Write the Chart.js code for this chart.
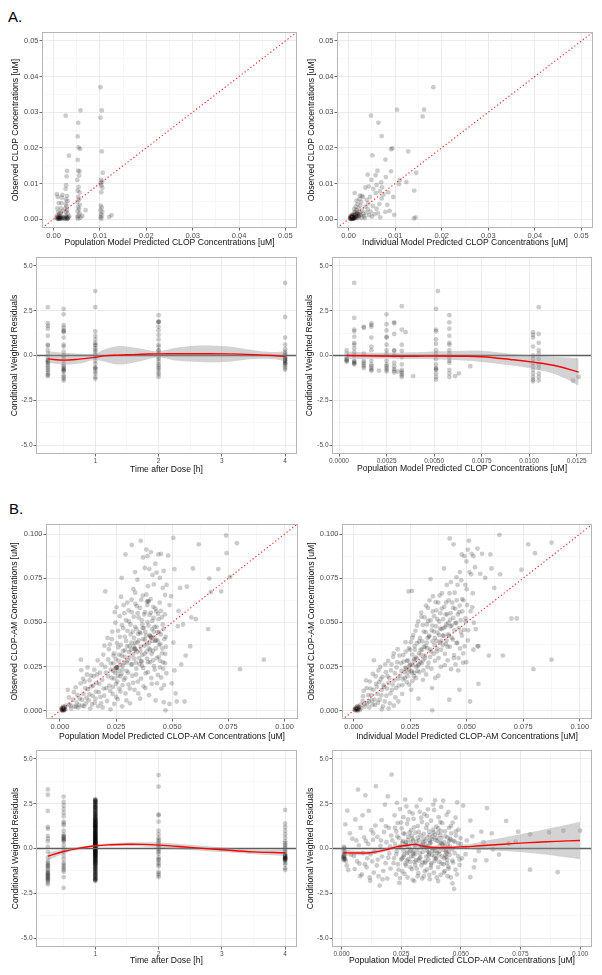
<!DOCTYPE html>
<html><head><meta charset="utf-8">
<script src="https://cdn.jsdelivr.net/npm/chart.js@4.4.1/dist/chart.umd.min.js"></script>
<style>
html,body{margin:0;padding:0;background:#fff;width:602px;height:975px;overflow:hidden;font-family:"Liberation Sans",Arial,sans-serif;}
canvas{position:absolute;}
.lab{position:absolute;font-size:15px;line-height:15px;color:#000;}
</style></head><body>
<div class="lab" style="left:8px;top:9px">A.</div>
<div class="lab" style="left:9px;top:501px">B.</div>
<script>
// ---------------- DATA ----------------
// Panel A1: CLOP population prediction vs observed [uM]
const clopPredObs = [
 [0.0007,0.007],[0.0009,0.0062],[0.0011,0.0045],[0.0008,0.003],[0.001,0.002],[0.0012,0.0015],[0.0007,0.001],[0.0009,0.0006],[0.0011,0.0003],[0.0008,0.0001],[0.0012,0.0008],[0.001,0.0],[0.0006,0.0004],[0.0013,0.0002],[0.0015,0.0005],[0.0016,0.001],[0.0017,0.0002],[0.0018,0.0004],[0.0019,0.0068],[0.0018,0.006],[0.0017,0.0045],[0.0016,0.003],[0.0019,0.0022],[0.0015,0.0016],
 [0.0009,0.0002],[0.0011,0.0005],[0.0014,0.0001],[0.0016,0.0003],[0.002,0.0001],[0.0022,0.0005],[0.0024,0.0002],[0.0027,0.0004],[0.003,0.0001],[0.0012,0.0001],
 [0.0026,0.029],[0.0029,0.0135],[0.0028,0.012],[0.0027,0.0095],[0.0026,0.0085],[0.0029,0.0065],[0.0027,0.0055],[0.003,0.005],[0.0026,0.0042],[0.0028,0.0036],[0.0025,0.003],[0.0029,0.0025],[0.0027,0.002],[0.003,0.0015],[0.0026,0.001],[0.0028,0.0006],[0.0031,0.0003],[0.0025,0.0001],[0.0029,0.0],[0.0033,0.0178],[0.0034,0.0008],[0.0032,0.0004],
 [0.0058,0.0305],[0.0053,0.027],[0.0052,0.0232],[0.0054,0.0201],[0.0057,0.0197],[0.0052,0.0166],[0.0053,0.0136],[0.0056,0.0134],[0.0055,0.0122],[0.0051,0.011],[0.0054,0.009],[0.0052,0.008],[0.0056,0.0075],[0.0053,0.0062],[0.0055,0.0055],[0.0051,0.0048],[0.0057,0.004],[0.0053,0.0034],[0.0055,0.0028],[0.0052,0.0022],[0.0056,0.0016],[0.0054,0.001],[0.0051,0.0006],[0.0058,0.0004],[0.0053,0.0001],[0.0069,0.0025],[0.0062,0.0009],
 [0.0101,0.037],[0.0104,0.0305],[0.0101,0.0285],[0.0104,0.019],[0.0106,0.013],[0.0102,0.011],[0.0105,0.0105],[0.0101,0.01],[0.0103,0.0095],[0.0105,0.0088],[0.0103,0.0075],[0.0102,0.0038],[0.0104,0.0032],[0.0101,0.0025],[0.0105,0.002],[0.0102,0.0014],[0.0104,0.0009],[0.0101,0.0005],[0.0103,0.0001],[0.012,0.0006],[0.0125,0.0011]
];
// Panel A2: CLOP individual prediction vs observed [uM]
const clopIpredObs = [
 [0.0003,0.0001],[0.0005,0.0003],[0.0006,0.0],[0.0008,0.0005],[0.0004,0.0008],[0.001,0.0002],[0.0012,0.0006],[0.0007,0.0012],[0.0009,0.0009],[0.0014,0.0011],[0.0011,0.0015],[0.0016,0.0004],[0.0018,0.0009],[0.0013,0.002],[0.002,0.0014],[0.0022,0.0006],[0.0017,0.0025],[0.0024,0.0019],[0.0026,0.0011],[0.0028,0.0003],[0.0021,0.003],[0.0015,0.0035],[0.0012,0.0028],[0.0029,0.0024],[0.0031,0.0015],[0.0033,0.0008],[0.0025,0.0038],[0.0035,0.0003],[0.0019,0.0042],[0.0038,0.0018],[0.0027,0.0048],[0.0041,0.0028],[0.0036,0.0035],[0.0044,0.0011],[0.0023,0.0056],[0.0031,0.0062],[0.0028,0.0065],[0.0024,0.0066],[0.0013,0.0073],[0.0017,0.0052],[0.0039,0.0054],[0.0042,0.0044],[0.0047,0.0021],[0.0052,0.0037],[0.005,0.0007],[0.0055,0.0014],[0.0063,0.0016],[0.0079,0.002],[0.006,0.0029],[0.0066,0.0042],[0.0058,0.0073],[0.0046,0.0062],[0.0071,0.0058],[0.0075,0.0069],[0.0083,0.004],
 [0.0004,0.0002],[0.0006,0.0004],[0.0007,0.0001],[0.0009,0.0003],[0.0011,0.0001],[0.0005,0.0006],[0.0008,0.0002],[0.001,0.0007],[0.0006,0.0009],[0.0013,0.0003],[0.0003,0.0004],
 [0.0005,0.0001],[0.0007,0.0003],[0.0009,0.0001],[0.0011,0.0004],[0.0008,0.0007],[0.0012,0.0002],[0.0014,0.0005],[0.0016,0.0008],[0.0019,0.0003],[0.0015,0.0014],[0.001,0.0011],[0.0017,0.0016],[0.0021,0.0009],[0.0023,0.0013],[0.0019,0.0019],
 [0.0041,0.0125],[0.0049,0.011],[0.0051,0.0179],[0.0048,0.029],[0.0058,0.0123],[0.0062,0.0136],[0.006,0.0096],[0.0064,0.027],[0.007,0.0103],[0.0071,0.0233],[0.0072,0.0089],[0.0079,0.0167],[0.008,0.0118],[0.0091,0.0196],[0.0094,0.0199],[0.0091,0.0134],[0.0104,0.0307],[0.011,0.011],[0.0124,0.0104],[0.0128,0.019],[0.0145,0.013],[0.0141,0.008],[0.014,0.0002],[0.0144,0.0005],[0.0159,0.0288],[0.0162,0.0307],[0.0182,0.037],[0.0085,0.0075],[0.0096,0.0062],[0.0108,0.0098],[0.0053,0.0085],[0.0067,0.0078],[0.0043,0.0092],[0.0036,0.0088],[0.0088,0.0023],[0.0098,0.0012],[0.0068,0.0005]
];
// Panel A3: CLOP CWRES by time after dose [h]
const clopTimes = [0.25, 0.5, 1, 2, 4];
const clopTimeCwres = [
 [2.7,1.8,1.65,1.5,1.1,0.6,0.55,0.3,0.1,-0.1,-0.3,-0.4,-0.5,-0.6,-0.7,-0.8,-0.9,-1.0,-1.1,-1.15,-0.25,-0.35],
 [2.6,2.3,1.7,1.55,1.4,1.35,1.3,1.0,0.6,0.5,0.2,0.0,-0.1,-0.3,-0.5,-0.6,-0.75,-0.8,-0.9,-1.1,-1.2,-1.3,-1.4,-0.7,-0.85],
 [3.6,2.7,1.35,1.1,0.9,0.7,0.6,0.55,0.4,0.3,0.2,0.05,-0.1,-0.3,-0.45,-0.7,-0.75,-0.9,-1.0,-1.2,-1.3,-0.65],
 [2.25,1.9,1.85,1.6,1.4,1.15,0.9,0.6,0.5,0.3,0.25,0.1,-0.1,-0.2,-0.35,-0.5,-0.6,-0.7,-0.8,-0.95,-1.05,-1.2,1.88],
 [4.05,2.15,1.0,0.6,0.35,0.2,0.1,0.0,-0.1,-0.2,-0.3,-0.35,-0.4,-0.5,-0.6,-0.7,-0.8,-0.25,-0.45,-0.15]
];
const clopTimeSmoothX  = [0.25,0.5,0.75,1,1.15,1.35,1.6,1.85,2,2.3,2.7,3.1,3.5,3.8,4];
const clopTimeSmoothY  = [-0.19,-0.26,-0.2,-0.1,-0.02,0.02,0.05,0.08,0.09,0.1,0.1,0.09,0.05,0.0,-0.06];
const clopTimeSmoothHi = [0.24,0.15,0.1,0.12,0.35,0.52,0.45,0.3,0.24,0.45,0.56,0.5,0.3,0.2,0.24];
const clopTimeSmoothLo = [-0.41,-0.5,-0.45,-0.25,-0.35,-0.5,-0.4,-0.2,-0.1,-0.3,-0.37,-0.35,-0.2,-0.2,-0.32];
// Panel A4: CLOP CWRES vs population prediction
const clopPredCwres = [
 [0.0004,0.3],[0.0004,0.1],[0.0004,-0.1],[0.0004,-0.2],[0.0004,-0.25],[0.0004,-0.3],[0.0004,-0.35],
 [0.0008,4.05],[0.0008,2.1],[0.0008,1.45],[0.0008,1.35],[0.0008,1.05],[0.0008,0.7],[0.0008,0.6],[0.0008,0.4],[0.0008,0.2],[0.0008,0.0],[0.0008,-0.3],[0.0008,-0.35],[0.0008,-0.4],[0.0008,-0.45],[0.0008,-0.5],
 [0.0013,1.6],[0.0013,1.55],[0.0013,0.1],[0.0013,-0.3],[0.0013,-0.4],[0.0013,-0.5],[0.0013,-0.6],[0.0013,-0.7],
 [0.0017,1.8],[0.0017,1.7],[0.0017,1.6],[0.0017,1.0],[0.0017,0.5],[0.0017,0.3],[0.0017,-0.3],[0.0017,-0.5],[0.0017,-0.6],[0.0017,-0.7],[0.0017,-0.8],[0.0017,-0.85],[0.0021,-0.85],
 [0.0025,2.3],[0.0025,1.75],[0.0025,1.4],[0.0025,1.05],[0.0025,1.0],[0.0025,0.6],[0.0025,0.3],[0.0025,0.1],[0.0025,-0.3],[0.0025,-0.5],[0.0025,-0.6],[0.0025,-0.7],[0.0025,-0.8],[0.0025,-0.9],
 [0.0029,1.85],[0.0029,1.8],[0.0029,1.2],[0.0029,0.3],[0.0029,0.25],[0.0029,0.0],[0.0029,-0.4],[0.0029,-0.6],[0.0029,-0.75],[0.0029,-0.85],[0.0029,-0.95],[0.0031,-0.9],
 [0.0033,2.75],[0.0033,1.45],[0.0033,0.6],[0.0033,0.25],[0.0033,-0.1],[0.0033,-0.5],[0.0033,-0.8],[0.0033,-0.9],[0.0033,-1.0],[0.0033,-1.1],[0.0033,-1.2],[0.0035,1.3],[0.0039,-1.15],
 [0.0051,2.6],[0.0051,1.45],[0.0051,1.35],[0.0051,0.9],[0.0051,0.65],[0.0051,0.3],[0.0051,0.1],[0.0051,-0.2],[0.0051,-0.5],[0.0051,-0.7],[0.0051,-0.75],[0.0051,-0.8],[0.0051,-1.0],[0.0051,-1.2],[0.0051,-1.35],[0.0052,3.6],
 [0.0058,2.25],[0.0058,1.85],[0.0058,1.5],[0.0058,1.1],[0.0058,0.7],[0.0058,0.6],[0.0058,0.3],[0.0058,0.1],[0.0058,-0.1],[0.0058,-0.3],[0.0058,-0.4],[0.0058,-0.8],[0.0058,-1.0],[0.0058,-1.2],
 [0.0061,-1.15],[0.0063,-1.0],[0.0069,-0.6],
 [0.0102,1.3],[0.0102,1.15],[0.0102,1.0],[0.0102,0.5],[0.0102,0.0],[0.0102,-0.2],[0.0102,-0.4],[0.0102,-0.6],[0.0102,-0.8],[0.0102,-1.0],[0.0102,-1.2],[0.0102,-1.35],[0.0102,-1.45],
 [0.0105,2.7],[0.0105,1.2],[0.0105,0.7],[0.0105,0.3],[0.0105,0.1],[0.0105,-0.2],[0.0105,-0.5],[0.0105,-0.7],[0.0105,-1.0],[0.0105,-1.2],[0.0105,-1.4],
 [0.0123,-1.4],[0.0126,-1.2]
];
const clopPredSmoothX  = [0.0004,0.002,0.004,0.005,0.0065,0.0075,0.009,0.0102,0.0115,0.0126];
const clopPredSmoothY  = [0.0,-0.03,-0.04,-0.03,-0.04,-0.07,-0.22,-0.37,-0.6,-0.93];
const clopPredSmoothHi = [0.22,0.15,0.18,0.22,0.26,0.26,0.1,0.0,-0.08,-0.15];
const clopPredSmoothLo = [-0.2,-0.18,-0.2,-0.22,-0.28,-0.36,-0.55,-0.75,-1.1,-1.68];

// Panel B1: CLOP-AM population prediction vs observed [uM]
const amPredObs = [
 [0.0008,0.0004],[0.001,0.0008],[0.0012,0.0002],[0.0014,0.0011],[0.0009,0.0015],[0.0016,0.0006],[0.0011,0.0],[0.0018,0.0014],[0.0013,0.0019],[0.002,0.0003],[0.0007,0.0011],[0.0015,0.0024],[0.0022,0.0017],[0.0024,0.0008],[0.0017,0.0003],[0.0026,0.0028],[0.0019,0.0009],[0.001,0.0005],
 [0.0035,0.0118],[0.0042,0.0035],[0.005,0.0012],[0.0058,0.0062],[0.0065,0.0025],[0.007,0.0132],[0.0075,0.0045],[0.0082,0.0018],[0.0088,0.0068],[0.0093,0.0289],[0.0095,0.023],[0.01,0.0028],[0.0105,0.0095],[0.011,0.0165],[0.0115,0.0041],[0.012,0.0205],[0.0125,0.0122],[0.0128,0.0058],[0.0132,0.0172],[0.0135,0.0012],[0.014,0.0138],[0.0145,0.0085],[0.015,0.0195],[0.0155,0.0045],[0.016,0.0108],[0.0165,0.0205],[0.017,0.0025],[0.0175,0.0152],[0.018,0.0078],[0.0185,0.0262],[0.019,0.0018],[0.0195,0.0125],[0.0198,0.0368],[0.0202,0.0675],[0.0205,0.0215],
 [0.004,0.0075],[0.0048,0.0028],[0.0062,0.0105],[0.0072,0.0022],[0.0078,0.0088],[0.0085,0.0032],[0.0092,0.0155],[0.0098,0.0062],[0.0103,0.0182],[0.0108,0.0025],[0.0113,0.0128],[0.0118,0.0072],[0.0123,0.0245],[0.0131,0.0092],[0.0138,0.0198],[0.0143,0.0035],[0.0148,0.0142],[0.0153,0.0232],[0.0158,0.0068],[0.0163,0.0158],[0.0168,0.0285],[0.0173,0.0105],[0.0178,0.0215],[0.0183,0.0042],[0.0188,0.0175],[0.0193,0.0318],[0.0197,0.0085],[0.0201,0.0248],[0.0207,0.0128],[0.0212,0.0412],
 [0.021,0.0055],[0.0215,0.029],[0.022,0.0142],[0.0222,0.0375],[0.0225,0.0008],[0.0228,0.0232],[0.023,0.0185],[0.0233,0.0448],[0.0235,0.0095],[0.0238,0.0268],[0.024,0.0325],[0.0242,0.0038],[0.0245,0.0215],[0.0247,0.0498],[0.025,0.0152],[0.0252,0.0585],[0.0255,0.0245],[0.0257,0.0065],[0.026,0.0358],[0.0262,0.0282],[0.0265,0.0125],[0.0267,0.0418],[0.027,0.0195],[0.0272,0.0645],[0.0275,0.0312],[0.0277,0.0025],[0.028,0.0255],[0.0282,0.0468],[0.0285,0.0175],[0.0287,0.0552],[0.029,0.0342],[0.0292,0.0098],[0.0295,0.0395],[0.0297,0.0225],[0.03,0.0612],[0.0302,0.0285],[0.0305,0.0148],[0.0307,0.0505],[0.031,0.0365],[0.0312,0.0042],[0.0315,0.0432],[0.0317,0.0262],[0.032,0.0558],[0.0322,0.0198],[0.0325,0.0318],[0.0327,0.0688],[0.033,0.0412],[0.0332,0.0118],[0.0335,0.0475],[0.0337,0.0345],[0.034,0.0238],[0.0342,0.0592],[0.0345,0.0385],[0.0347,0.0165],[0.035,0.0528],[0.0352,0.0298],[0.0355,0.0445],[0.0357,0.0068],[0.036,0.0362],[0.0362,0.0628],[0.0365,0.0255],[0.0367,0.0488],[0.037,0.0405],[0.0372,0.0138],[0.0375,0.0545],[0.0377,0.0322],[0.038,0.0445],[0.0382,0.0212],[0.0385,0.0658],[0.0387,0.0378],[0.039,0.0502],[0.0392,0.0275],[0.0395,0.0618],[0.0397,0.0088],[0.04,0.0428],[0.0402,0.0345],[0.0405,0.0555],[0.0407,0.0185],[0.041,0.0462],[0.0412,0.0395],[0.0415,0.0285],[0.0417,0.0525],[0.042,0.0418],[0.0422,0.0232],[0.0425,0.0578],[0.0427,0.0352],[0.043,0.0475],[0.0432,0.0155],[0.0435,0.0398],[0.0437,0.0548],[0.044,0.0305],[0.0442,0.0445],[0.0445,0.0245],[0.0447,0.0378],[0.045,0.0565],[0.0452,0.0125],[0.0455,0.0325],[0.0458,0.0488],[0.046,0.0238],[0.0462,0.0048],[0.0465,0.0405],[0.0468,0.0268],[0.047,0.0002],[0.0472,0.0362],
 [0.0215,0.0195],[0.0218,0.0348],[0.0224,0.0112],[0.0227,0.0268],[0.0231,0.0405],[0.0236,0.0135],[0.0239,0.0312],[0.0241,0.0182],[0.0244,0.0558],[0.0249,0.0292],[0.0251,0.0078],[0.0254,0.0382],[0.0256,0.0165],[0.0259,0.0452],[0.0261,0.0225],[0.0264,0.0318],[0.0266,0.0535],[0.0269,0.0108],[0.0271,0.0372],[0.0274,0.0208],[0.0276,0.0485],[0.0279,0.0145],[0.0281,0.0338],[0.0284,0.0598],[0.0286,0.0272],[0.0289,0.0418],[0.0291,0.0185],[0.0294,0.0512],[0.0296,0.0058],[0.0299,0.0365],[0.0301,0.0452],[0.0304,0.0215],[0.0306,0.0568],[0.0309,0.0302],[0.0311,0.0125],[0.0314,0.0488],[0.0316,0.0345],[0.0319,0.0628],[0.0321,0.0262],[0.0324,0.0448],[0.0326,0.0158],[0.0329,0.0532],[0.0331,0.0295],[0.0334,0.0385],[0.0336,0.0605],[0.0339,0.0205],[0.0341,0.0462],[0.0344,0.0332],[0.0346,0.0552],[0.0349,0.0098],[0.0351,0.0398],[0.0354,0.0265],[0.0356,0.0582],[0.0359,0.0438],[0.0361,0.0182],[0.0364,0.0512],[0.0366,0.0315],[0.0369,0.0652],[0.0371,0.0242],[0.0374,0.0468],[0.0376,0.0368],[0.0379,0.0558],[0.0381,0.0128],[0.0384,0.0425],[0.0386,0.0335],[0.0389,0.0598],[0.0391,0.0218],[0.0394,0.0482],[0.0396,0.0352],[0.0399,0.0542],[0.0401,0.0275],[0.0404,0.0632],[0.0406,0.0412],[0.0409,0.0152],[0.0411,0.0508],[0.0414,0.0338],[0.0416,0.0588],[0.0419,0.0252],[0.0421,0.0475],[0.0424,0.0395],[0.0426,0.0058],[0.0429,0.0562],[0.0431,0.0298],[0.0434,0.0445],[0.0436,0.0202],[0.0439,0.0518],[0.0441,0.0372],[0.0444,0.0612],[0.0446,0.0282],[0.0449,0.0432],[0.0451,0.0188],[0.0454,0.0528],[0.0456,0.0352],[0.0459,0.0275],[0.0461,0.0462],[0.0464,0.0145],[0.0467,0.0545],[0.0469,0.0322],[0.0471,0.0418],[0.0474,0.0212],
 [0.0318,0.0385],[0.0338,0.0272],[0.0358,0.0338],[0.0378,0.0402],[0.0398,0.0385],[0.0418,0.0448],[0.0388,0.0295],[0.0348,0.0435],[0.0328,0.0365],[0.0408,0.0322],[0.0368,0.0468],[0.0428,0.0398],[0.0308,0.0332],[0.0298,0.0272],[0.0288,0.0305],[0.0278,0.0232],[0.0268,0.0258],[0.0258,0.0198],[0.0248,0.0242],[0.0238,0.0225],
 [0.0252,0.0245],[0.0254,0.0242],[0.0402,0.0422],[0.0404,0.0418],[0.0388,0.0618],[0.0392,0.062],[0.0332,0.0348],[0.0334,0.0352],[0.0362,0.0282],[0.0364,0.0278],
 [0.0275,0.0752],[0.0292,0.0885],[0.032,0.0938],[0.0335,0.0785],[0.0345,0.0742],[0.036,0.0962],[0.037,0.0868],[0.0378,0.0808],[0.0385,0.0912],[0.039,0.0875],[0.0398,0.0802],[0.0405,0.0898],[0.0412,0.0768],[0.0418,0.0715],[0.0425,0.0832],[0.043,0.0782],[0.0438,0.0885],[0.0445,0.0752],[0.045,0.0888],[0.0458,0.0695],[0.0462,0.0792],[0.0468,0.0655],[0.0475,0.0712],[0.0482,0.0878],[0.0488,0.0598],[0.0495,0.0648],[0.0505,0.0978],[0.051,0.0802],[0.0335,0.0668],[0.0392,0.0705],
 [0.0505,0.0385],[0.051,0.0228],[0.0515,0.0098],[0.052,0.0052],[0.0525,0.0478],[0.0535,0.0695],[0.054,0.0262],[0.0548,0.0488],[0.0555,0.0052],[0.056,0.0312],[0.0565,0.0702],[0.058,0.0365],[0.0585,0.0528],[0.0592,0.0805],[0.0605,0.0518],[0.0618,0.0942],[0.066,0.0462],[0.0665,0.0748],[0.0672,0.0672],[0.0705,0.0802],[0.0718,0.0675],[0.074,0.0992],[0.0742,0.0892],[0.0758,0.0758],[0.0788,0.0948],[0.0802,0.0235],[0.0908,0.0289],[0.0488,0.0038],[0.0498,0.0155],[0.0528,0.0565]
];
// Panel B2: CLOP-AM individual prediction vs observed [uM]
const amIpredObs = [
 [0.0006,0.0003],[0.0009,0.0007],[0.0012,0.0001],[0.0015,0.0012],[0.0008,0.0015],[0.0018,0.0005],[0.0011,0.001],[0.002,0.0018],[0.0014,0.0022],[0.0023,0.0009],[0.0005,0.0009],[0.0017,0.0026],[0.0025,0.0021],[0.0028,0.0004],[0.0019,0.0],[0.003,0.0033],[0.0021,0.0012],[0.0013,0.0005],
 [0.0035,0.0015],[0.004,0.0055],[0.0045,0.0112],[0.005,0.0025],[0.0055,0.0172],[0.006,0.0042],[0.0065,0.0088],[0.007,0.0018],[0.0075,0.0125],[0.008,0.0058],[0.0085,0.0208],[0.009,0.0285],[0.0095,0.0032],[0.01,0.0152],[0.0105,0.0095],[0.011,0.0228],[0.0115,0.0062],[0.012,0.0178],[0.0125,0.0118],[0.013,0.0025],[0.0135,0.0135],[0.014,0.0262],[0.0145,0.0085],[0.015,0.0195],[0.0155,0.0158],[0.016,0.0042],[0.0165,0.0228],[0.017,0.0118],[0.0175,0.0305],[0.018,0.0172],[0.0185,0.0075],[0.019,0.0245],[0.0195,0.0348],[0.02,0.0142],[0.0205,0.0198],[0.0085,0.0035],[0.0125,0.0008],[0.0155,0.0012],[0.0178,0.0028],[0.0198,0.0052],
 [0.0042,0.0082],[0.0048,0.0038],[0.0058,0.0128],[0.0068,0.0052],[0.0072,0.0165],[0.0078,0.0088],[0.0088,0.0118],[0.0093,0.0062],[0.0098,0.0195],[0.0103,0.0135],[0.0108,0.0045],[0.0113,0.0162],[0.0118,0.0248],[0.0123,0.0088],[0.0128,0.0192],[0.0133,0.0145],[0.0138,0.0052],[0.0143,0.0218],[0.0148,0.0125],[0.0153,0.0282],[0.0158,0.0185],[0.0163,0.0098],[0.0168,0.0262],[0.0173,0.0148],[0.0178,0.0325],[0.0183,0.0212],[0.0188,0.0128],[0.0193,0.0275],[0.0197,0.0182],[0.0203,0.0312],
 [0.021,0.0268],[0.0215,0.0095],[0.022,0.0315],[0.0225,0.0218],[0.023,0.0388],[0.0235,0.0162],[0.024,0.0285],[0.0243,0.0675],[0.0245,0.0235],[0.025,0.0345],[0.0255,0.0118],[0.026,0.0412],[0.0263,0.0258],[0.0267,0.0195],[0.027,0.0365],[0.0275,0.0302],[0.028,0.0482],[0.0283,0.0225],[0.0287,0.0068],[0.029,0.0392],[0.0295,0.0275],[0.03,0.0532],[0.0303,0.0345],[0.0307,0.0175],[0.031,0.0448],[0.0315,0.0312],[0.032,0.0595],[0.0323,0.0385],[0.0327,0.0248],[0.033,0.0508],[0.0335,0.0425],[0.034,0.0745],[0.0343,0.0335],[0.0347,0.0128],[0.035,0.0562],[0.0355,0.0448],[0.036,0.0282],[0.0363,0.0615],[0.0367,0.0395],[0.037,0.0518],[0.0375,0.0198],[0.038,0.0652],[0.0383,0.0465],[0.0387,0.0345],[0.039,0.0578],[0.0395,0.0425],[0.04,0.0805],[0.0403,0.0258],[0.0407,0.0545],[0.041,0.0488],[0.0415,0.0362],[0.042,0.0625],[0.0423,0.0062],[0.0427,0.0515],[0.043,0.0728],[0.0435,0.0412],[0.044,0.0582],[0.0443,0.0298],[0.0447,0.0668],[0.045,0.0495],[0.0455,0.0382],[0.046,0.0712],[0.0463,0.0228],[0.0467,0.0558],[0.047,0.0785],[0.0475,0.0445],[0.048,0.0632],[0.0485,0.0325],[0.049,0.0875],[0.0495,0.0522],[0.05,0.0688],[0.0505,0.0398],[0.051,0.0962],[0.052,0.0772],[0.0525,0.0585],[0.053,0.0875],[0.054,0.0462],[0.0548,0.0918],[0.0552,0.0365],[0.056,0.0775],[0.0568,0.0888],
 [0.0212,0.0225],[0.0216,0.0145],[0.0221,0.0278],[0.0226,0.0185],[0.0231,0.0335],[0.0233,0.0242],[0.0236,0.0282],[0.0241,0.0218],[0.0244,0.0352],[0.0246,0.0148],[0.0251,0.0262],[0.0253,0.0388],[0.0256,0.0225],[0.0259,0.0318],[0.0261,0.0168],[0.0264,0.0428],[0.0266,0.0282],[0.0269,0.0215],[0.0271,0.0345],[0.0274,0.0452],[0.0276,0.0185],[0.0279,0.0295],[0.0281,0.0382],[0.0284,0.0255],[0.0286,0.0505],[0.0289,0.0325],[0.0291,0.0218],[0.0294,0.0412],[0.0296,0.0345],[0.0299,0.0555],[0.0301,0.0268],[0.0304,0.0392],[0.0306,0.0485],[0.0309,0.0228],[0.0311,0.0362],[0.0314,0.0528],[0.0316,0.0298],[0.0319,0.0445],[0.0321,0.0205],[0.0324,0.0488],[0.0326,0.0355],[0.0329,0.0582],[0.0331,0.0272],[0.0334,0.0418],[0.0336,0.0625],[0.0339,0.0345],[0.0341,0.0512],[0.0344,0.0238],[0.0346,0.0455],[0.0349,0.0392],[0.0351,0.0648],[0.0354,0.0322],[0.0356,0.0535],[0.0359,0.0412],[0.0361,0.0185],[0.0364,0.0478],[0.0366,0.0568],[0.0369,0.0352],[0.0371,0.0442],[0.0374,0.0612],[0.0376,0.0298],[0.0379,0.0505],[0.0381,0.0385],[0.0384,0.0552],[0.0386,0.0248],[0.0389,0.0462],[0.0391,0.0665],[0.0394,0.0372],[0.0396,0.0518],[0.0399,0.0425],[0.0401,0.0588],[0.0404,0.0322],[0.0406,0.0475],[0.0409,0.0612],[0.0411,0.0398],[0.0414,0.0545],[0.0416,0.0285],[0.0419,0.0498],[0.0421,0.0425],[0.0424,0.0665],[0.0426,0.0362],[0.0429,0.0552],[0.0431,0.0235],[0.0434,0.0482],[0.0436,0.0612],[0.0439,0.0402],[0.0441,0.0525],[0.0444,0.0315],[0.0446,0.0455],[0.0449,0.0578],[0.0451,0.0262],[0.0454,0.0498],[0.0456,0.0625],[0.0459,0.0385],[0.0461,0.0545],[0.0464,0.0298],[0.0466,0.0468],[0.0469,0.0595],[0.0471,0.0352],[0.0474,0.0512],[0.0476,0.0738],[0.0479,0.0425],[0.0481,0.0562],[0.0484,0.0272],[0.0486,0.0625],[0.0489,0.0458],[0.0491,0.0365],[0.0494,0.0712],[0.0496,0.0505],[0.0499,0.0845],[0.0502,0.0598],[0.0507,0.0455],[0.0512,0.0785],[0.0517,0.0562],[0.0522,0.0888],[0.0527,0.0665],[0.0532,0.0498],[0.0537,0.0812],
 [0.0318,0.0362],[0.0338,0.0305],[0.0358,0.0372],[0.0378,0.0428],[0.0398,0.0468],[0.0418,0.0432],[0.0388,0.0395],[0.0348,0.0482],[0.0328,0.0412],[0.0408,0.0378],[0.0368,0.0335],[0.0428,0.0478],[0.0308,0.0285],[0.0298,0.0318],[0.0288,0.0262],[0.0278,0.0248],[0.0268,0.0292],[0.0258,0.0215],[0.0248,0.0258],[0.0238,0.0195],[0.0228,0.0242],[0.0218,0.0178],
 [0.0258,0.0678],[0.0412,0.0712],[0.0425,0.0975],[0.0442,0.0942],[0.0455,0.0755],[0.0478,0.0885],[0.0505,0.0912],[0.053,0.0345],[0.0548,0.0365],[0.0582,0.0752],[0.0598,0.0312],[0.0605,0.0885],[0.061,0.0805],[0.0622,0.0695],[0.0645,0.0995],[0.0648,0.0772],[0.066,0.0312],[0.0698,0.0522],[0.0722,0.0522],[0.0742,0.0798],[0.0772,0.0942],[0.0795,0.0235],[0.0802,0.0892],[0.0875,0.0952],[0.0875,0.0289],[0.0515,0.0052],[0.0348,0.0002],[0.0552,0.0152],[0.0468,0.0118],[0.0498,0.0275]
];
// Panel B3: CLOP-AM CWRES by time after dose [h]
const amTimes = [0.25, 0.5, 1, 2, 4];
const amTimeCwres = [
 [3.3,3.0,2.1,1.2,1.1,0.7,0.55,0.4,0.1,-0.2,-0.5,-0.7,-0.8,-0.9,-1.0,-1.1,-1.2,-1.3,-1.4,-1.5,-1.55,-1.6,-1.7,-1.8,-1.9,-2.0,-1.45,-1.65,-1.35,-1.75,-0.95],
 [2.9,2.6,2.4,2.2,2.0,1.8,1.5,1.4,1.3,1.0,0.8,0.6,0.5,0.4,0.2,0.0,-0.2,-0.4,-0.6,-0.8,-1.0,-1.1,-1.3,-1.6,-2.2,0.55,0.65,-0.9,0.45,0.7,-1.2],
 [2.75,2.72,2.66,2.6,2.55,2.48,2.41,2.35,2.28,2.2,2.14,2.06,1.98,1.92,1.85,1.78,1.72,1.66,1.6,1.53,1.47,1.41,1.35,1.3,1.24,1.18,1.12,1.06,1.0,0.95,0.9,0.84,0.78,0.73,0.68,0.62,0.57,0.52,0.47,0.42,0.37,0.32,0.27,0.22,0.17,0.12,0.07,0.02,-0.03,-0.08,-0.13,-0.18,-0.23,-0.28,-0.33,-0.38,-0.44,-0.5,-0.56,-0.62,-0.68,-0.74,-0.8,-0.87,-0.94,-1.01,-1.08,-1.16,-1.24,-1.32,-1.4,-1.48,-1.56,-1.64,-1.72,-1.8,
  0.05,0.15,0.25,0.35,0.45,0.55,0.65,0.75,0.85,1.1,1.25,1.4,1.55,-0.1,-0.3,-0.5,-0.7,-0.9,0.3,0.6,0.9,1.2,0.0,-0.2,-0.4,1.7,1.9,2.1,2.3,2.5,-1.1,-1.3,-1.5,
  2.7,2.62,2.45,2.32,2.18,2.02,1.88,1.75,1.62,1.5,1.38,1.27,1.15,1.03,0.92,0.81,0.7,0.59,0.49,0.39,0.29,0.19,0.09,-0.01,-0.11,-0.21,-0.31,-0.41,-0.53,-0.65,-0.77,-0.9,-1.04,-1.2,-1.36,-1.52,-1.68,-1.76,
  2.68,2.58,2.38,2.25,2.1,1.95,1.82,1.69,1.57,1.44,1.33,1.21,1.09,0.98,0.87,0.76,0.65,0.54,0.44,0.34,0.24,0.14,0.04,-0.06,-0.16,-0.26,-0.36,-0.47,-0.59,-0.71,-0.84,-0.97,-1.12,-1.28,-1.44,-1.6,-1.7,-1.78,
  1.58,1.46,1.34,1.22,1.08,0.96,0.83,0.71,0.58,0.46,0.33,0.21,0.08,-0.04,-0.17,-0.29,-0.42,-0.55,-0.69,-0.83],
 [4.1,3.45,1.9,1.85,1.5,1.0,0.8,0.6,0.5,0.4,0.3,0.2,0.1,0.0,-0.1,-0.2,-0.3,-0.5,-0.6,-0.65,-0.8,-0.9,-1.0,-1.3,-1.4,-1.5,-1.6],
 [2.15,1.4,1.2,1.0,0.8,0.6,0.4,0.3,0.2,0.1,0.0,-0.1,-0.2,-0.3,-0.4,-0.5,-0.55,-0.6,-0.65,-0.7,-0.8,-0.9,-1.1,-1.2,-0.45,-0.35,-0.5,-0.6,-0.42,-0.52,-0.58]
];
const amTimeSmoothX  = [0.25,0.5,0.75,1,1.25,1.5,1.75,2,2.5,3,3.5,4];
const amTimeSmoothY  = [-0.43,-0.17,0.02,0.15,0.21,0.24,0.23,0.19,0.06,-0.07,-0.19,-0.24];
const amTimeSmoothHi = [-0.2,-0.05,0.1,0.2,0.29,0.34,0.35,0.34,0.21,0.06,-0.06,-0.06];
const amTimeSmoothLo = [-0.66,-0.29,-0.06,0.1,0.13,0.14,0.11,0.04,-0.09,-0.2,-0.32,-0.42];
// Panel B4: CLOP-AM CWRES vs population prediction
const amPredCwres = [
 [0.0008,-0.55],[0.0009,-0.42],[0.001,-0.3],[0.0011,-0.6],[0.0012,-0.18],[0.0008,-0.05],[0.001,0.1],[0.0013,-0.5],[0.0009,-0.65],[0.0011,-0.38],[0.0014,-0.25],[0.0007,-0.48],[0.0012,0.02],[0.0015,-0.58],[0.0018,-0.7],[0.0016,1.35],[0.0024,2.12],[0.0022,-0.95],[0.0028,-1.2],[0.0035,0.85],[0.004,-0.35],
 [0.0055,-1.15],[0.0062,0.45],[0.0069,3.29],[0.0075,-0.85],[0.008,1.15],[0.0085,-1.45],[0.009,-0.25],[0.0095,0.62],[0.01,2.97],[0.0105,-1.05],[0.0108,-0.55],[0.0112,0.25],[0.0114,2.1],[0.0118,-1.62],[0.012,-1.8],[0.0125,1.02],[0.0128,-0.72],[0.0132,0.48],[0.0135,-1.35],[0.0138,-0.18],[0.0142,1.28],[0.0144,3.48],[0.0148,-0.95],[0.015,0.65],[0.0155,-1.55],[0.016,-2.07],[0.0163,0.15],[0.0168,1.58],[0.017,-0.45],[0.0175,-1.25],[0.0178,0.92],[0.0182,2.45],[0.0185,-0.82],[0.0188,0.35],[0.0192,-1.68],[0.0194,2.91],[0.0198,1.15],[0.02,-0.28],[0.0205,-1.12],[0.021,4.13],[0.0208,0.72],
 [0.0045,0.55],[0.0052,-0.42],[0.0058,1.62],[0.0065,-0.72],[0.0072,0.18],[0.0078,-1.55],[0.0088,1.85],[0.0098,-0.88],[0.0102,0.42],[0.0122,-0.32],[0.0133,0.85],[0.0152,-0.62],[0.0165,0.45],[0.0172,-1.72],[0.0186,1.25],[0.0196,-0.52],[0.0203,0.12],
 [0.022,-0.55],[0.0222,1.85],[0.0225,0.25],[0.0228,-1.45],[0.023,0.95],[0.0232,-0.15],[0.0235,1.42],[0.0237,-0.88],[0.024,0.58],[0.0242,-1.92],[0.0245,2.2],[0.0247,0.05],[0.025,-0.62],[0.0252,1.12],[0.0255,-1.28],[0.0257,0.42],[0.026,1.75],[0.0262,-0.35],[0.0265,0.82],[0.0267,2.73],[0.027,-0.95],[0.0272,0.18],[0.0275,1.38],[0.0277,-1.62],[0.028,0.65],[0.0282,-0.22],[0.0285,2.05],[0.0287,-0.75],[0.029,0.32],[0.0292,1.02],[0.0295,-1.15],[0.0297,0.55],[0.03,-0.42],[0.0302,1.65],[0.0305,-1.82],[0.0307,0.12],[0.031,0.88],[0.0312,-0.65],[0.0315,2.35],[0.0317,-0.08],[0.032,1.25],[0.0322,-1.38],[0.0325,0.45],[0.0327,-0.55],[0.033,2.73],[0.0332,0.72],[0.0335,-0.95],[0.0337,1.48],[0.034,-0.2],[0.0342,0.35],[0.0345,-1.55],[0.0347,1.92],[0.035,0.08],[0.0352,-0.72],[0.0355,1.15],[0.0357,-1.18],[0.036,0.62],[0.0362,2.18],[0.0365,-0.38],[0.0367,0.95],[0.037,-1.72],[0.0372,0.28],[0.0375,1.55],[0.0377,-0.82],[0.038,0.52],[0.0382,-0.12],[0.0385,2.45],[0.0387,-1.35],[0.039,0.78],[0.0392,2.69],[0.0395,-0.58],[0.0397,1.22],[0.04,-0.25],[0.0402,0.42],[0.0405,-1.05],[0.0407,1.75],[0.041,-0.75],[0.0412,0.15],[0.0415,-1.48],[0.0417,0.98],[0.042,-0.45],[0.0422,1.42],[0.0426,2.67],[0.0428,-0.88],[0.043,0.35],[0.0433,-1.25],[0.0435,0.68],[0.0438,-0.15],[0.044,1.88],[0.0443,-0.62],[0.0445,0.22],[0.0448,-1.02],[0.045,1.15],[0.0453,-0.35],[0.0455,0.55],[0.0458,-1.62],[0.046,0.85],[0.0463,-0.05],[0.0466,1.45],[0.0468,-0.78],[0.0472,-2.25],[0.0475,0.38],[0.0478,-1.18],[0.048,0.72],[0.0485,2.58],[0.0488,-0.42],[0.049,1.05],[0.0495,-0.92],[0.05,0.25],[0.051,2.39],[0.0505,-0.55],
 [0.0213,0.45],[0.0218,-0.82],[0.0224,1.15],[0.0229,-0.32],[0.0234,0.68],[0.0239,-1.18],[0.0244,0.12],[0.0249,1.45],[0.0254,-0.55],[0.0259,0.85],[0.0264,-1.42],[0.0269,0.25],[0.0274,-0.68],[0.0279,1.62],[0.0284,0.05],[0.0289,-1.05],[0.0294,0.72],[0.0299,-0.18],[0.0304,1.18],[0.0309,-0.92],[0.0314,0.38],[0.0319,-1.55],[0.0324,0.92],[0.0329,-0.28],[0.0334,1.72],[0.0339,-0.78],[0.0344,0.55],[0.0349,-1.28],[0.0354,0.18],[0.0359,1.35],[0.0364,-0.62],[0.0369,0.75],[0.0374,-1.08],[0.0379,0.02],[0.0384,1.05],[0.0389,-0.45],[0.0394,0.48],[0.0399,-1.62],[0.0404,0.88],[0.0409,-0.32],[0.0414,1.48],[0.0419,-0.85],[0.0424,0.22],[0.0429,-1.35],[0.0434,0.95],[0.0439,-0.48],[0.0444,0.62],[0.0449,-1.12],[0.0454,0.12],[0.0459,1.25],[0.0464,-0.68],[0.0469,0.42],[0.0474,-0.25],[0.0479,0.95],[0.0484,-1.45],[0.0489,0.28],[0.0494,-0.62],[0.0499,0.58],
 [0.0262,-0.12],[0.0278,0.48],[0.0292,-0.45],[0.0308,0.22],[0.0322,-0.68],[0.0338,0.05],[0.0352,0.42],[0.0368,-0.28],[0.0382,0.65],[0.0398,-0.52],[0.0412,0.35],[0.0428,-0.08],[0.0442,-0.82],[0.0458,0.48],[0.0285,0.88],[0.0315,-1.12],[0.0345,0.82],[0.0375,-0.92],[0.0405,1.12],[0.0435,-0.38],[0.0255,0.32],[0.0268,-0.85],[0.0302,-0.28],[0.0325,0.18],[0.0358,-0.12],[0.0372,0.32],[0.0392,-0.15],[0.0418,0.58],[0.0432,0.12],[0.0448,-0.18],
 [0.0232,2.55],[0.0272,2.35],[0.0298,1.95],[0.0328,2.05],[0.0358,1.82],[0.0388,2.15],[0.0418,2.32],[0.0448,2.05],[0.0478,1.72],[0.0245,-1.65],[0.0298,-1.75],[0.0338,-1.68],[0.0368,-1.48],[0.0405,-1.82],[0.0445,-1.55],[0.0465,-1.95],
 [0.026,-0.45],[0.027,0.35],[0.028,-0.6],[0.029,-0.1],[0.03,0.45],[0.031,-0.3],[0.032,0.6],[0.033,-0.5],[0.034,0.25],[0.035,-0.8],[0.036,0.1],[0.037,0.45],[0.038,-0.35],[0.039,-0.7],[0.04,0.6],[0.041,-0.15],[0.042,0.3],[0.043,-0.55],[0.044,-0.25],[0.045,0.4],[0.0395,0.05],[0.0365,-0.2],[0.0335,0.15],[0.0305,-0.75],[0.0275,-0.25],[0.0415,0.75],[0.0385,0.9],[0.0355,-0.45],
 [0.052,-0.32],[0.054,1.56],[0.054,-1.6],[0.0548,0.68],[0.056,-0.66],[0.0575,-0.15],[0.0586,0.94],[0.0607,-0.66],[0.061,2.26],[0.063,0.85],[0.0635,-0.05],[0.066,-0.34],[0.069,1.54],[0.07,0.28],[0.073,0.38],[0.074,0.94],[0.079,0.79],[0.079,-1.18],[0.087,0.9],[0.0906,-1.32],[0.093,1.0],[0.1,1.0],[0.0525,0.45],[0.0555,-1.05],[0.0595,0.35]
];
const amPredSmoothX  = [0.0008,0.006,0.012,0.019,0.023,0.027,0.031,0.034,0.038,0.045,0.05,0.055,0.061,0.068,0.075,0.082,0.09,0.1];
const amPredSmoothY  = [-0.24,-0.25,-0.24,-0.06,0.09,0.17,0.23,0.13,0.06,0.06,0.09,0.12,0.18,0.24,0.3,0.35,0.4,0.45];
const amPredSmoothHi = [-0.07,-0.12,-0.12,0.04,0.17,0.25,0.31,0.21,0.13,0.13,0.2,0.28,0.45,0.62,0.8,0.98,1.2,1.5];
const amPredSmoothLo = [-0.41,-0.38,-0.36,-0.16,0.01,0.09,0.15,0.05,-0.01,-0.01,-0.02,-0.04,-0.09,-0.14,-0.2,-0.3,-0.42,-0.6];

// Tick values and labels
const clopConcTicks = [0, 0.01, 0.02, 0.03, 0.04, 0.05];
const clopConcLabels = ['0.00','0.01','0.02','0.03','0.04','0.05'];
const clopPredTicks = [0, 0.0025, 0.005, 0.0075, 0.01, 0.0125];
const clopPredLabels = ['0.0000','0.0025','0.0050','0.0075','0.0100','0.0125'];
const amConcTicks = [0, 0.025, 0.05, 0.075, 0.1];
const amConcLabels = ['0.000','0.025','0.050','0.075','0.100'];
const timeTicks = [1, 2, 3, 4];
const timeLabels = ['1','2','3','4'];
const cwresTicks = [-5, -2.5, 0, 2.5, 5];
const cwresLabels = ['-5.0','-2.5','0.0','2.5','5.0'];

// ---------------- DRAWING ----------------
const FONT = '"Liberation Sans", Arial, Helvetica, sans-serif';
const TITLE_SIZE = 8.6;

function minorTicks(vals, lo, hi) {
  const out = [];
  const step = vals[1] - vals[0];
  out.push(vals[0] - step/2);
  vals.forEach(v => out.push(v + step/2));
  return out.filter(m => m > lo && m < hi);
}

function axis(range, majors, labels, title, tickSize, fitFn) {
  const minors = minorTicks(majors, range[0], range[1]);
  const isMajor = v => majors.some(m => Math.abs(m - v) < 1e-9);
  const all = majors.concat(minors).sort((a,b)=>a-b);
  return {
    type: 'linear', min: range[0], max: range[1], bounds: 'data',
    afterBuildTicks: s => { s.ticks = all.map(v => ({value: v})); },
    afterFit: fitFn,
    ticks: {
      autoSkip: false, maxRotation: 0, minRotation: 0, padding: 1,
      color: '#4d4d4d', font: {family: FONT, size: tickSize},
      callback: v => { const i = majors.findIndex(m => Math.abs(m - v) < 1e-9); return i >= 0 ? labels[i] : ''; }
    },
    grid: {
      color: c => (c.tick && isMajor(c.tick.value)) ? '#ebebeb' : '#f3f3f3',
      lineWidth: c => (c.tick && isMajor(c.tick.value)) ? 1 : 0.6,
      drawTicks: true, tickLength: 2.5, tickWidth: 0.8,
      tickColor: c => (c.tick && isMajor(c.tick.value)) ? '#444444' : 'rgba(0,0,0,0)'
    },
    border: {display: false},
    title: {display: true, text: title, color: '#111', font: {family: FONT, size: TITLE_SIZE}, padding: 0}
  };
}

const framePlugin = {
  id: 'frame',
  afterDatasetsDraw(chart) {
    const {ctx, chartArea: a} = chart;
    ctx.save();
    ctx.strokeStyle = '#b5b5b5';
    ctx.lineWidth = 1;
    ctx.strokeRect(a.left + 0.5, a.top + 0.5, a.right - a.left - 1, a.bottom - a.top - 1);
    ctx.restore();
  }
};

const pts = arr => arr.map(([x, y]) => ({x, y}));
const zip = (xs, ys) => xs.map((x, i) => ({x, y: ys[i]}));
const pointSet = data => ({type: 'scatter', data, pointRadius: 2.4, backgroundColor: 'rgba(0,0,0,0.2)', borderColor: 'rgba(0,0,0,0)', borderWidth: 0, order: 6});

function obsPanel(data, xr, yr) {
  const lo = Math.min(xr[0], yr[0]), hi = Math.max(xr[1], yr[1]);
  return [
    pointSet(pts(data)),
    {type: 'line', data: [{x: lo, y: lo}, {x: hi, y: hi}], borderColor: '#e0302a', borderWidth: 1.1, borderDash: [1.3, 2.3], pointRadius: 0, fill: false, order: 1}
  ];
}
function resPanel(data, xr, sx, sy, hi, lo) {
  return [
    pointSet(data),
    {type: 'line', data: [{x: xr[0], y: 0}, {x: xr[1], y: 0}], borderColor: '#5e5e5e', borderWidth: 1.3, pointRadius: 0, fill: false, order: 5},
    {type: 'line', data: zip(sx, hi), borderColor: 'rgba(0,0,0,0)', borderWidth: 0, pointRadius: 0, tension: 0.4, fill: '+1', backgroundColor: 'rgba(150,150,150,0.42)', order: 3},
    {type: 'line', data: zip(sx, lo), borderColor: 'rgba(0,0,0,0)', borderWidth: 0, pointRadius: 0, tension: 0.4, fill: false, order: 3},
    {type: 'line', data: zip(sx, sy), borderColor: '#ff0000', borderWidth: 1.4, pointRadius: 0, tension: 0.4, fill: false, order: 1}
  ];
}
const columnPts = (times, vals) => times.flatMap((t, i) => vals[i].map(v => ({x: t, y: v})));

function makePanel(p) {
  const lh = TITLE_SIZE * 1.2;
  const cl = Math.round(p.ytc - lh/2);
  const ct = p.T - 6;
  const cr = p.R + 4;
  const cb = Math.round(p.xtc + lh/2);
  const canvas = document.createElement('canvas');
  canvas.width = cr - cl; canvas.height = cb - ct;
  canvas.style.left = cl + 'px'; canvas.style.top = ct + 'px';
  document.body.appendChild(canvas);
  const yW = p.L - cl, xH = cb - p.B;
  new Chart(canvas, {
    type: 'scatter',
    data: {datasets: p.datasets},
    options: {
      responsive: false, animation: false, devicePixelRatio: 1, events: [],
      layout: {padding: {left: 0, top: p.T - ct, right: cr - p.R, bottom: 0}},
      plugins: {legend: {display: false}, tooltip: {enabled: false}},
      scales: {
        x: axis(p.xr, p.xt, p.xl, p.xTitle, p.tick, s => { s.height = xH; }),
        y: axis(p.yr, p.yt, p.yl, p.yTitle, p.tick, s => { s.width = yW; })
      }
    },
    plugins: [framePlugin]
  });
}

const rA = [-0.0025, 0.0525];
const rT = [0.0625, 4.1875];
const rC = [-5.5, 5.5];
const rP = [-0.00037, 0.0133];
const rB1x = [-0.0062, 0.1060];
const rBy = [-0.0047, 0.1057];
const rB2x = [-0.0051, 0.1054];
const rB4x = [-0.004, 0.105];

const panels = [
  {L:42, T:32, R:297, B:228, ytc:15.5, xtc:242.5, xr:rA, yr:rA, xt:clopConcTicks, xl:clopConcLabels, yt:clopConcTicks, yl:clopConcLabels, tick:7.5,
   xTitle:'Population Model Predicted CLOP Concentrations [uM]', yTitle:'Observed CLOP Concentrations [uM]', datasets: obsPanel(clopPredObs, rA, rA)},
  {L:337, T:32, R:593, B:228, ytc:311, xtc:242.5, xr:rA, yr:rA, xt:clopConcTicks, xl:clopConcLabels, yt:clopConcTicks, yl:clopConcLabels, tick:7.5,
   xTitle:'Individual Model Predicted CLOP Concentrations [uM]', yTitle:'Observed CLOP Concentrations [uM]', datasets: obsPanel(clopIpredObs, rA, rA)},
  {L:36, T:257, R:297, B:454, ytc:14.5, xtc:469.5, xr:rT, yr:rC, xt:timeTicks, xl:timeLabels, yt:cwresTicks, yl:cwresLabels, tick:6.5,
   xTitle:'Time after Dose [h]', yTitle:'Conditional Weighted Residuals',
   datasets: resPanel(columnPts(clopTimes, clopTimeCwres), rT, clopTimeSmoothX, clopTimeSmoothY, clopTimeSmoothHi, clopTimeSmoothLo)},
  {L:332, T:257, R:592, B:454, ytc:309, xtc:469, xr:rP, yr:rC, xt:clopPredTicks, xl:clopPredLabels, yt:cwresTicks, yl:cwresLabels, tick:6.5,
   xTitle:'Population Model Predicted CLOP Concentrations [uM]', yTitle:'Conditional Weighted Residuals',
   datasets: resPanel(pts(clopPredCwres), rP, clopPredSmoothX, clopPredSmoothY, clopPredSmoothHi, clopPredSmoothLo)},
  {L:46, T:524, R:298, B:719, ytc:14.5, xtc:736.5, xr:rB1x, yr:rBy, xt:amConcTicks, xl:amConcLabels, yt:amConcTicks, yl:amConcLabels, tick:7.5,
   xTitle:'Population Model Predicted CLOP-AM Concentrations [uM]', yTitle:'Observed CLOP-AM Concentrations [uM]', datasets: obsPanel(amPredObs, rB1x, rBy)},
  {L:342, T:524, R:592, B:719, ytc:311, xtc:736.5, xr:rB2x, yr:rBy, xt:amConcTicks, xl:amConcLabels, yt:amConcTicks, yl:amConcLabels, tick:7.5,
   xTitle:'Individual Model Predicted CLOP-AM Concentrations [uM]', yTitle:'Observed CLOP-AM Concentrations [uM]', datasets: obsPanel(amIpredObs, rB2x, rBy)},
  {L:36, T:750, R:297, B:947, ytc:15.5, xtc:961, xr:rT, yr:rC, xt:timeTicks, xl:timeLabels, yt:cwresTicks, yl:cwresLabels, tick:6.5,
   xTitle:'Time after Dose [h]', yTitle:'Conditional Weighted Residuals',
   datasets: resPanel(columnPts(amTimes, amTimeCwres), rT, amTimeSmoothX, amTimeSmoothY, amTimeSmoothHi, amTimeSmoothLo)},
  {L:332, T:750, R:592, B:947, ytc:310.5, xtc:961, xr:rB4x, yr:rC, xt:amConcTicks, xl:amConcLabels, yt:cwresTicks, yl:cwresLabels, tick:6.5,
   xTitle:'Population Model Predicted CLOP-AM Concentrations [uM]', yTitle:'Conditional Weighted Residuals',
   datasets: resPanel(pts(amPredCwres), rB4x, amPredSmoothX, amPredSmoothY, amPredSmoothHi, amPredSmoothLo)}
];
panels.forEach(makePanel);
</script>
</body></html>
